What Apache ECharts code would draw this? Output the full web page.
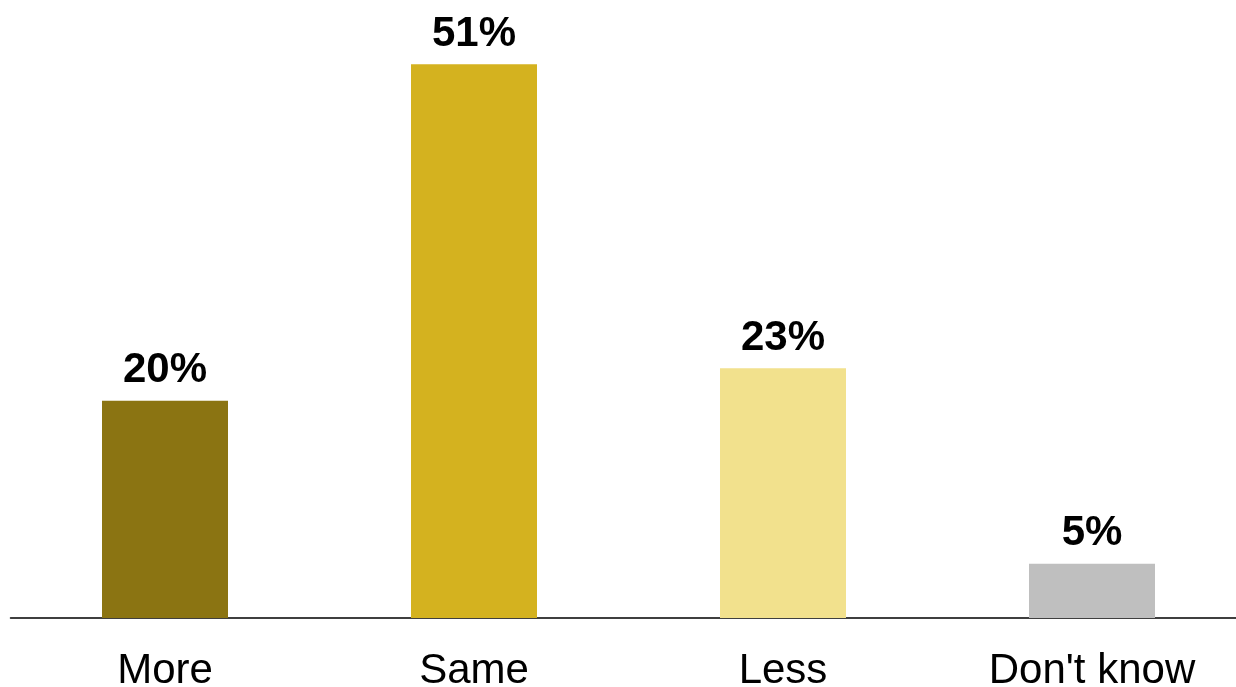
<!DOCTYPE html>
<html>
<head>
<meta charset="utf-8">
<script src="https://cdn.jsdelivr.net/npm/echarts@6/dist/echarts.min.js"></script>
<style>
html,body{margin:0;padding:0;background:#fff;}
#chart{width:1236px;height:687px;}
</style>
</head>
<body>
<div id="chart"></div>
<script>
const categories = ["More", "Same", "Less", "Don't know"];
const values = [20, 51, 23, 5];
const colors = ["#8B7412", "#D4B21F", "#F2E18D", "#BFBFBF"];

const chart = echarts.init(document.getElementById('chart'), null, {renderer: 'canvas'});
chart.setOption({
  animation: false,
  grid: {left: 10.5, right: -10.5, top: 20.7, bottom: 69, containLabel: false, outerBoundsMode: 'none'},
  xAxis: {
    type: 'category',
    data: categories,
    axisLine: {show: true, lineStyle: {color: '#000', width: 1.5}},
    axisTick: {show: false},
    axisLabel: {color: '#000', fontSize: 42, fontFamily: 'Liberation Sans, Arial, sans-serif', margin: 32}
  },
  yAxis: {
    type: 'value', min: 0, max: 55,
    show: false, splitLine: {show: false}
  },
  series: [{
    type: 'bar',
    data: values.map((v, i) => ({value: v, itemStyle: {color: colors[i]}})),
    barWidth: 126,
    label: {
      show: true, position: 'top', distance: 9,
      formatter: '{c}%', color: '#000', fontSize: 42, fontWeight: 'bold',
      fontFamily: 'Liberation Sans, Arial, sans-serif'
    }
  }]
});
</script>
</body>
</html>
